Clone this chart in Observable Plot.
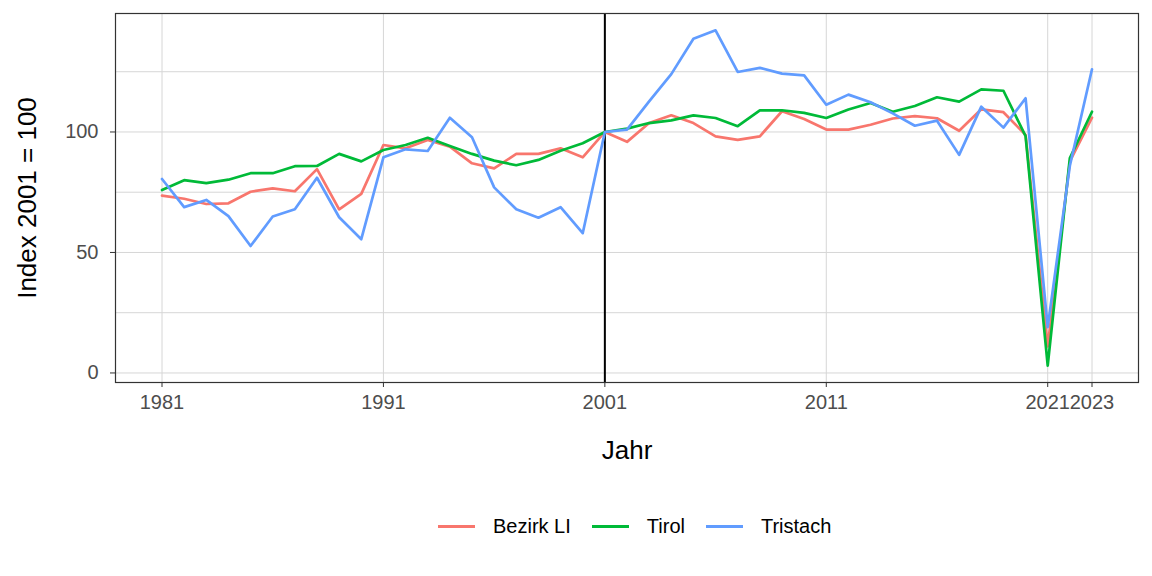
<!DOCTYPE html>
<html>
<head>
<meta charset="utf-8">
<script src="https://cdn.jsdelivr.net/npm/d3@7"></script>
<script src="https://cdn.jsdelivr.net/npm/@observablehq/plot@0.6"></script>
<style>
  html, body { margin: 0; padding: 0; background: #fff; }
  #wrap { position: relative; width: 1152px; height: 576px; font-family: "Liberation Sans", Arial, sans-serif; }
  #legend { position: absolute; left: 438px; top: 513px; height: 26px; display: flex; align-items: center; font-size: 20px; color: #000; }
  .key { display: flex; align-items: center; margin-right: 21px; }
  .sw { width: 37px; height: 3px; margin-right: 18px; }
</style>
</head>
<body>
<div id="wrap"><div id="legend"></div></div>
<script>
const years = d3.range(1981, 2024);
const seriesNames = ["Bezirk LI", "Tirol", "Tristach"];
const seriesColors = ["#F8766D", "#00BA38", "#619CFF"];
const bezirkLI = [73.6, 72.3, 70.1, 70.4, 75.2, 76.6, 75.4, 84.6, 67.9, 74.3,
  94.6, 93.2, 96.7, 93.9, 87.0, 84.9, 90.9, 90.9, 93.2, 89.5,
  100, 95.9, 103.7, 106.9, 103.7, 98.2, 96.7, 98.2, 108.6, 105.4,
  101.0, 101.0, 103.0, 105.6, 106.6, 105.7, 100.5, 109.4, 108.2, 98.8,
  11, 87.8, 105.9];
const tirol = [75.9, 80.0, 78.8, 80.2, 82.9, 82.9, 85.8, 85.9, 90.9, 87.8,
  92.5, 94.6, 97.6, 94.2, 90.9, 88.1, 86.2, 88.4, 92.2, 95.3,
  100, 101.4, 103.7, 104.8, 106.9, 105.8, 102.4, 109.0, 109.0, 107.9,
  105.8, 109.3, 112.0, 108.4, 110.8, 114.4, 112.6, 117.7, 117.1, 98.3,
  3, 89.2, 108.4];
const tristach = [80.5, 68.8, 71.8, 65.1, 52.7, 64.9, 67.9, 81.0, 64.6, 55.5,
  89.5, 92.8, 92.1, 105.9, 97.8, 77.0, 67.9, 64.4, 68.8, 58.0,
  100, 101.0, 112.7, 124.0, 138.7, 142.2, 124.9, 126.6, 124.2, 123.5,
  111.3, 115.5, 112.3, 107.7, 102.6, 104.7, 90.5, 110.5, 101.8, 114.0,
  19, 86, 126];
const xTicks = [1981, 1991, 2001, 2011, 2021, 2023];
const yTicks = [0, 50, 100];
const yGrid = [0, 25, 50, 75, 100, 125];
const refYear = [2001];
const xTitle = "Jahr";
const yTitle = "Index 2001 = 100";

const allValues = [bezirkLI, tirol, tristach];
const data = [];
allValues.forEach((vals, i) => vals.forEach((v, j) => data.push({year: years[j], value: v, series: seriesNames[i]})));

const xmin = d3.min(years), xmax = d3.max(years);
const vmin = d3.min(data, d => d.value), vmax = d3.max(data, d => d.value);
const xpad = (xmax - xmin) * 0.05, ypad = (vmax - vmin) * 0.05;

const chart = Plot.plot({
  width: 1152,
  height: 490,
  marginLeft: 115,
  marginRight: 14,
  marginTop: 13,
  marginBottom: 108,
  style: {fontFamily: "'Liberation Sans', Arial, sans-serif", fontSize: "20px", background: "#fff"},
  x: {domain: [xmin - xpad, xmax + xpad]},
  y: {domain: [vmin - ypad, vmax + ypad]},
  color: {domain: seriesNames, range: seriesColors},
  marks: [
    Plot.gridX(xTicks, {stroke: "#D6D6D6", strokeOpacity: 1, strokeWidth: 1}),
    Plot.gridY(yGrid, {stroke: "#D6D6D6", strokeOpacity: 1, strokeWidth: 1}),
    Plot.ruleX(refYear, {stroke: "#000", strokeWidth: 2}),
    Plot.line(data, {x: "year", y: "value", z: "series", stroke: "series", strokeWidth: 2.7, strokeLinejoin: "round"}),
    Plot.frame({stroke: "#333333", strokeWidth: 1.2}),
    Plot.axisX(xTicks, {tickSize: 5, tickPadding: 7, stroke: "#333333", fill: "#4D4D4D", tickFormat: d => String(d), label: null}),
    Plot.axisY(yTicks, {tickSize: 5, tickPadding: 12, stroke: "#333333", fill: "#4D4D4D", label: null}),
    Plot.text([xTitle], {frameAnchor: "bottom", dy: 68, fontSize: 26, fill: "#000", lineAnchor: "middle"}),
    Plot.text([yTitle], {frameAnchor: "left", dx: -88, rotate: -90, textAnchor: "middle", fontSize: 26, fill: "#000", lineAnchor: "middle"})
  ]
});
const wrap = document.getElementById("wrap");
wrap.insertBefore(chart, wrap.firstChild);

const legend = document.getElementById("legend");
seriesNames.forEach((name, i) => {
  const k = document.createElement("div");
  k.className = "key";
  const sw = document.createElement("div");
  sw.className = "sw";
  sw.style.background = seriesColors[i];
  const t = document.createElement("span");
  t.textContent = name;
  k.appendChild(sw); k.appendChild(t);
  legend.appendChild(k);
});
</script>
</body>
</html>
